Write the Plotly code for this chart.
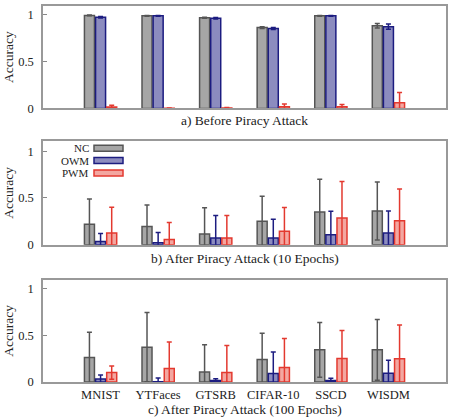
import plotly.graph_objects as go
from plotly.subplots import make_subplots

datasets = ["MNIST", "YTFaces", "GTSRB", "CIFAR-10", "SSCD", "WISDM"]
series = ["NC", "OWM", "PWM"]

# a) before piracy attack
a_nc = [0.99, 0.985, 0.965, 0.86, 0.985, 0.88]
a_nc_err = [0.004, 0.004, 0.005, 0.01, 0.003, 0.025]
a_owm = [0.97, 0.985, 0.96, 0.85, 0.985, 0.87]
a_owm_err = [0.008, 0.004, 0.008, 0.01, 0.003, 0.028]
a_pwm = [0.015, 0.003, 0.005, 0.018, 0.018, 0.06]
a_pwm_err = [0.02, 0.002, 0.005, 0.03, 0.025, 0.11]

# b) after piracy attack (10 epochs)
b_nc = [0.22, 0.196, 0.115, 0.25, 0.35, 0.36]
b_nc_err = [0.27, 0.23, 0.28, 0.27, 0.35, 0.31]
b_owm = [0.035, 0.02, 0.072, 0.072, 0.107, 0.125]
b_owm_err = [0.085, 0.11, 0.24, 0.2, 0.25, 0.235]
b_pwm = [0.125, 0.057, 0.072, 0.143, 0.286, 0.257]
b_pwm_err = [0.275, 0.18, 0.24, 0.255, 0.39, 0.34]

# c) after piracy attack (100 epochs)
c_nc = [0.261, 0.372, 0.107, 0.24, 0.343, 0.343]
c_nc_err = [0.27, 0.37, 0.29, 0.28, 0.293, 0.325]
c_owm = [0.032, 0.003, 0.015, 0.09, 0.015, 0.093]
c_owm_err = [0.043, 0.04, 0.02, 0.23, 0.025, 0.14]
c_pwm = [0.1, 0.143, 0.1, 0.154, 0.25, 0.247]
c_pwm_err = [0.07, 0.285, 0.29, 0.31, 0.3, 0.36]

captions = ["a) Before Piracy Attack",
            "b) After Piracy Attack (10 Epochs)",
            "c) After Piracy Attack (100 Epochs)"]

fills = ["rgba(150,150,150,0.85)", "rgba(120,120,180,0.85)", "rgba(236,120,110,0.65)"]
lines = ["#555555", "#1c1c80", "#e3392f"]

panels = [
    [(a_nc, a_nc_err), (a_owm, a_owm_err), (a_pwm, a_pwm_err)],
    [(b_nc, b_nc_err), (b_owm, b_owm_err), (b_pwm, b_pwm_err)],
    [(c_nc, c_nc_err), (c_owm, c_owm_err), (c_pwm, c_pwm_err)],
]

FONT = "Liberation Serif"
W, H = 465, 419
ML, MR, MT, MB = 43, 19, 4, 37
PW, PH = W - ML - MR, H - MT - MB

def px_x(p):
    return (p - ML) / PW

def px_y(p):
    return (H - MB - p) / PH

fig = make_subplots(rows=3, cols=1)
domains = [(px_y(107), 1.0), (px_y(244), px_y(139.7)), (0.0, px_y(279.3))]

for r, panel in enumerate(panels, start=1):
    for i, (vals, errs) in enumerate(panel):
        fig.add_trace(go.Bar(
            x=datasets, y=vals, name=series[i], showlegend=False,
            marker=dict(color=fills[i], line=dict(color=lines[i], width=1.5)),
            error_y=dict(type="data", array=errs, visible=True,
                         color=lines[i], thickness=1.5, width=2.5),
        ), row=r, col=1)
    yname = "yaxis" if r == 1 else "yaxis%d" % r
    xname = "xaxis" if r == 1 else "xaxis%d" % r
    fig.layout[yname].update(
        domain=list(domains[r - 1]), range=[0, 1.09 if r != 2 else 1.11],
        tickvals=[0, 0.5, 1], ticktext=["0", "0.5", "1"],
        ticks="inside", ticklen=4, tickcolor="#888888",
        showline=True, mirror=True, linecolor="#999999", linewidth=1.5,
        showgrid=False, zeroline=False,
        title=dict(text="Accuracy", font=dict(family=FONT, size=13.5, color="#222"), standoff=1),
        tickfont=dict(family=FONT, size=12.5, color="#222"), ticklabelstandoff=5,
    )
    fig.layout[xname].update(
        range=[-1, 6], showline=True, mirror=True, linecolor="#999999", linewidth=1.5,
        showgrid=False, ticks="", showticklabels=(r == 3),
        tickfont=dict(family=FONT, size=12.5, color="#222"),
    )

# captions under each panel
for cap, py in zip(captions, [119, 258, 410]):
    fig.add_annotation(text=cap, xref="paper", yref="paper", x=0.5, y=px_y(py),
                       xanchor="center", yanchor="middle", showarrow=False,
                       font=dict(family=FONT, size=13.5, color="#222"))

# legend (labels left of swatches) inside panel b
for i, name in enumerate(series):
    cy = 147 + i * 12.4
    fig.add_annotation(text=name, xref="paper", yref="paper", x=px_x(90), y=px_y(cy),
                       xanchor="right", yanchor="middle", showarrow=False,
                       borderpad=0, font=dict(family=FONT, size=11, color="#222"))
    fig.add_shape(type="rect", xref="paper", yref="paper",
                  x0=px_x(94), x1=px_x(123), y0=px_y(cy + 3), y1=px_y(cy - 3),
                  fillcolor=fills[i], line=dict(color=lines[i], width=1.5))

fig.update_layout(
    width=W, height=H, barmode="group", bargap=0.42, bargroupgap=0.1,
    margin=dict(l=ML, r=MR, t=MT, b=MB),
    plot_bgcolor="white", paper_bgcolor="white", showlegend=False,
)

fig.write_html("out.html", config={"displayModeBar": False},
               post_script="document.body.style.margin='0';")
